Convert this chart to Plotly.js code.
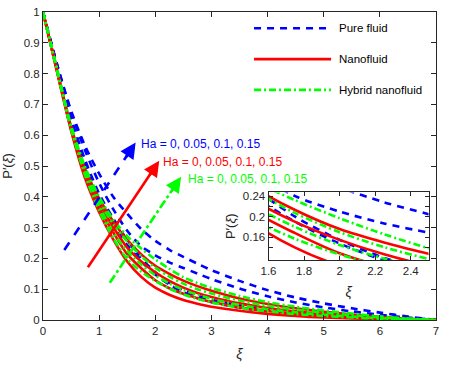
<!DOCTYPE html>
<html>
<head>
<meta charset="utf-8">
<script src="https://cdn.plot.ly/plotly-3.0.1.min.js"></script>
<style>html,body{margin:0;padding:0;background:#fff;}#chart{width:451px;height:365px;}</style>
</head>
<body>
<div id="chart"></div>
<script>
// ---- data ----
const xi = [0,0.25,0.5,0.75,1,1.25,1.5,1.75,2,2.25,2.5,2.75,3,3.5,4,4.5,5,5.5,6,6.5,7];

// Pure fluid, Ha = 0, 0.05, 0.1, 0.15
const pureHa0    = [1,0.82,0.645,0.505,0.395,0.31,0.243,0.19,0.148,0.115,0.09,0.071,0.058,0.04,0.028,0.019,0.013,0.008,0.0045,0.002,0];
const pureHa005  = [1,0.825,0.655,0.52,0.41,0.33,0.26,0.2,0.155,0.12,0.096,0.079,0.066,0.047,0.033,0.023,0.016,0.01,0.006,0.0025,0];
const pureHa01   = [1,0.83,0.675,0.55,0.445,0.36,0.29,0.24,0.21,0.187,0.169,0.151,0.133,0.102,0.077,0.057,0.041,0.028,0.017,0.008,0];
const pureHa015  = [1,0.83,0.68,0.565,0.475,0.4,0.345,0.295,0.257,0.228,0.205,0.183,0.162,0.127,0.097,0.073,0.054,0.038,0.024,0.011,0];

// Nanofluid
const nanoHa0    = [1,0.805,0.615,0.46,0.35,0.262,0.19,0.14,0.105,0.082,0.065,0.053,0.043,0.03,0.02,0.013,0.008,0.005,0.003,0.0012,0];
const nanoHa005  = [1,0.808,0.62,0.47,0.365,0.285,0.214,0.168,0.129,0.103,0.085,0.071,0.059,0.041,0.029,0.02,0.013,0.008,0.0045,0.002,0];
const nanoHa01   = [1,0.81,0.624,0.48,0.38,0.302,0.235,0.19,0.155,0.127,0.105,0.088,0.075,0.054,0.039,0.028,0.019,0.012,0.007,0.003,0];
const nanoHa015  = [1,0.813,0.628,0.49,0.395,0.32,0.26,0.213,0.176,0.15,0.128,0.11,0.095,0.07,0.052,0.038,0.027,0.018,0.01,0.004,0];

// Hybrid nanofluid
const hybHa0     = [1,0.81,0.622,0.47,0.355,0.266,0.198,0.157,0.127,0.102,0.083,0.069,0.057,0.04,0.028,0.019,0.013,0.008,0.0045,0.002,0];
const hybHa005   = [1,0.81,0.622,0.475,0.37,0.285,0.224,0.18,0.145,0.119,0.098,0.082,0.069,0.049,0.035,0.025,0.017,0.011,0.006,0.0025,0];
const hybHa01    = [1,0.812,0.625,0.485,0.385,0.312,0.255,0.207,0.17,0.141,0.118,0.1,0.086,0.063,0.046,0.034,0.024,0.016,0.009,0.0035,0];
const hybHa015   = [1,0.815,0.632,0.497,0.4,0.327,0.272,0.232,0.197,0.166,0.139,0.12,0.104,0.078,0.058,0.043,0.031,0.021,0.012,0.005,0];

const legendLabels = ["Pure fluid","Nanofluid","Hybrid nanofluid"];
const haLabel = "Ha = 0, 0.05, 0.1, 0.15";
const mainXTicks = [0,1,2,3,4,5,6,7];
const mainYTicks = [0,0.1,0.2,0.3,0.4,0.5,0.6,0.7,0.8,0.9,1];
const insetXTicks = [1.6,1.8,2,2.2,2.4];
const insetXText = ["1.6","1.8","2","2.2","2.4"];
const insetYTicks = [0.16,0.2,0.24];
const insetYText = ["0.16","0.2","0.24"];
const insetYMinor = [0.14,0.18,0.22];

// ---- styles ----
const BLUE = 'rgb(0,0,255)', RED = 'rgb(255,0,0)', GREEN = 'rgb(0,255,0)';
const DASH = '7px,6px', DASHDOT = '7px,3px,2px,3px';
const LW = 2.6;
const groups = [
  {name: legendLabels[0], color: BLUE, dash: DASH, series: [pureHa0, pureHa005, pureHa01, pureHa015]},
  {name: legendLabels[1], color: RED, dash: 'solid', series: [nanoHa0, nanoHa005, nanoHa01, nanoHa015]},
  {name: legendLabels[2], color: GREEN, dash: DASHDOT, series: [hybHa0, hybHa005, hybHa01, hybHa015]}
];

const traces = [];
['', '2'].forEach(function(sfx){
  groups.forEach(function(g){
    g.series.forEach(function(s){
      traces.push({
        x: xi, y: s, type: 'scatter', mode: 'lines', name: g.name,
        xaxis: 'x' + sfx, yaxis: 'y' + sfx, showlegend: false, hoverinfo: 'skip',
        line: {color: g.color, width: LW, dash: g.dash, shape: 'spline', smoothing: 0.8}
      });
    });
  });
});

const FONT = 'Arial, "Liberation Sans", sans-serif';
const AXC = '#262626';

// arrows: tail (x0,y0) -> head (x1,y1), in data units
const arrows = [
  {x0: 0.38, y0: 0.227, x1: 1.65, y1: 0.576, color: BLUE, dash: 'dash', tx: 1.71, ty: 0.571},
  {x0: 0.80, y0: 0.171, x1: 2.07, y1: 0.517, color: RED, dash: 'solid', tx: 2.11, ty: 0.512},
  {x0: 1.19, y0: 0.121, x1: 2.46, y1: 0.465, color: GREEN, dash: 'dashdot', tx: 2.54, ty: 0.457}
];

const shapes = [], annotations = [];
arrows.forEach(function(a){
  const dx = a.x1 - a.x0, dy = a.y1 - a.y0;
  shapes.push({type: 'line', xref: 'x', yref: 'y', x0: a.x0, y0: a.y0,
    x1: a.x0 + dx * 0.92, y1: a.y0 + dy * 0.92,
    line: {color: a.color, width: 2.6, dash: a.dash}});
  annotations.push({xref: 'x', yref: 'y', axref: 'x', ayref: 'y', x: a.x1, y: a.y1,
    ax: a.x0 + dx * 0.85, ay: a.y0 + dy * 0.85, text: '', showarrow: true,
    arrowhead: 2, arrowsize: 1.2, arrowwidth: 2.6, arrowcolor: a.color});
  annotations.push({xref: 'x', yref: 'y', x: a.tx, y: a.ty, text: haLabel, showarrow: false,
    xanchor: 'left', yanchor: 'middle', font: {family: FONT, size: 12, color: a.color}});
});

// legend drawn as samples + labels (paper coords)
const legY = [0.947, 0.847, 0.747];
groups.forEach(function(g, i){
  shapes.push({type: 'line', xref: 'paper', yref: 'paper', x0: 0.537, x1: 0.733, y0: legY[i], y1: legY[i],
    line: {color: g.color, width: 2.6, dash: g.dash}});
  annotations.push({xref: 'paper', yref: 'paper', x: 0.747, y: legY[i], text: g.name, showarrow: false,
    xanchor: 'left', yanchor: 'middle', font: {family: FONT, size: 11.5, color: '#000'}});
});

const axCommon = {showgrid: false, zeroline: false, showline: true, linecolor: AXC, linewidth: 1,
  ticks: 'inside', mirror: 'ticks', tickcolor: AXC, tickwidth: 1,
  tickfont: {family: FONT, size: 11.5, color: AXC}};

const layout = Object.assign({
  width: 451, height: 365,
  margin: {l: 43, r: 15, t: 12, b: 45},
  paper_bgcolor: '#fff', plot_bgcolor: '#fff',
  showlegend: false,
  font: {family: FONT, color: AXC},
  xaxis: Object.assign({}, axCommon, {range: [0, 7], tickvals: mainXTicks, ticklen: 5,
    title: {text: '<i>ξ</i>', font: {family: FONT, size: 14, color: AXC}, standoff: 13}}),
  yaxis: Object.assign({}, axCommon, {range: [0, 1], tickvals: mainYTicks, ticklen: 5,
    title: {text: 'P′(<i>ξ</i>)', font: {family: FONT, size: 13, color: AXC}, standoff: 9}}),
  xaxis2: Object.assign({}, axCommon, {domain: [0.5738, 0.981], anchor: 'y2', range: [1.6, 2.5],
    tickvals: insetXTicks, ticktext: insetXText, ticklen: 4,
    title: {text: '<i>ξ</i>', font: {family: FONT, size: 14, color: AXC}, standoff: 11}}),
  yaxis2: Object.assign({}, axCommon, {domain: [0.1948, 0.414], anchor: 'x2', range: [0.116, 0.247],
    tickvals: insetYTicks, ticktext: insetYText, ticklen: 4,
    minor: {tickvals: insetYMinor, ticks: 'inside', ticklen: 4, tickcolor: AXC},
    title: {text: 'P′(<i>ξ</i>)', font: {family: FONT, size: 13, color: AXC}, standoff: 4}}),
  shapes: shapes,
  annotations: annotations
});

Plotly.newPlot('chart', traces, layout, {staticPlot: true, displayModeBar: false});
</script>
</body>
</html>
